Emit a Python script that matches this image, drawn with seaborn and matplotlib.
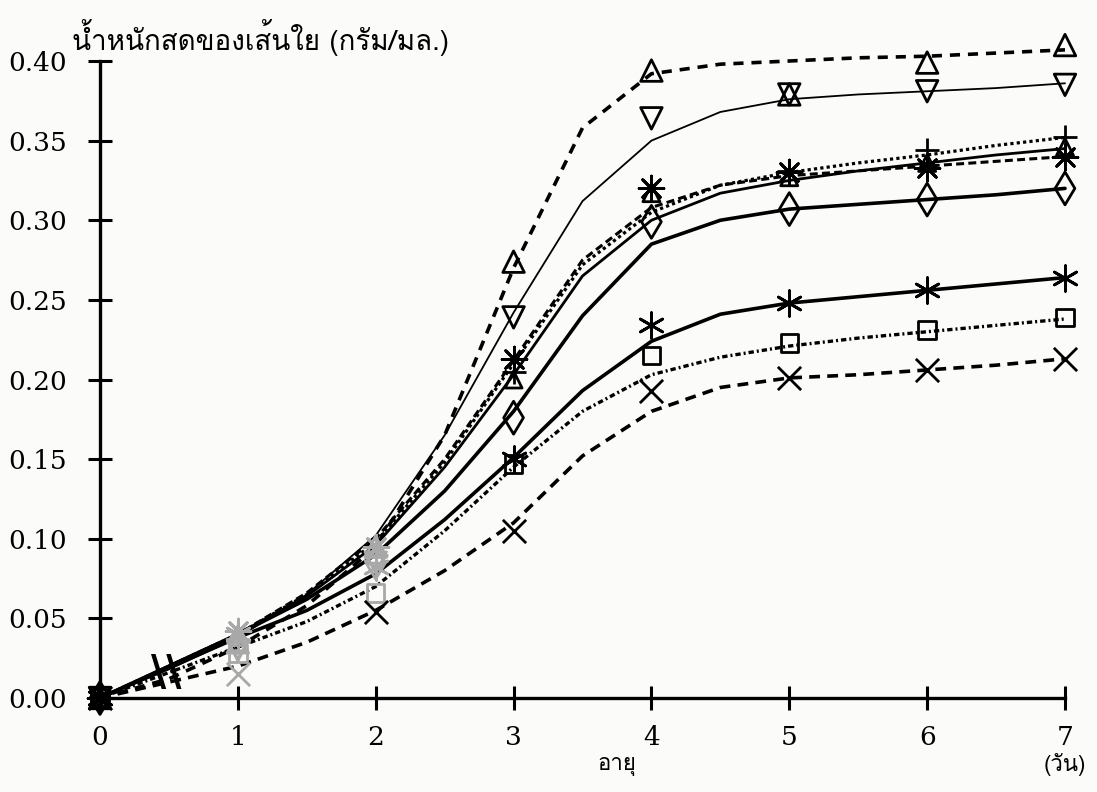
import numpy as np
import pandas as pd
import matplotlib
matplotlib.use("Agg")
import matplotlib.pyplot as plt
import seaborn as sns
from matplotlib import font_manager, ft2font

# ---------------- data ----------------
days = [0, 1, 2, 3, 4, 5, 6, 7]
curve_days = [0, 0.5, 1, 1.5, 2, 2.5, 3, 3.5, 4, 4.5, 5, 5.5, 6, 6.5, 7]

# measured points (markers)
pts_tri_up   = [0, 0.035, 0.095, 0.274, 0.394, 0.379, 0.399, 0.410]
pts_tri_down = [0, 0.030, 0.085, 0.239, 0.364, 0.379, 0.381, 0.385]
pts_plus     = [0, 0.035, 0.090, 0.205, 0.320, 0.331, 0.344, 0.352]
pts_tri_sm   = [0, 0.035, 0.090, 0.200, 0.317, 0.327, 0.336, 0.346]
pts_ast8     = [0, 0.042, 0.095, 0.213, 0.320, 0.330, 0.333, 0.340]
pts_diamond  = [0, 0.035, 0.085, 0.176, 0.299, 0.307, 0.313, 0.320]
pts_ast6     = [0, 0.040, 0.082, 0.150, 0.234, 0.248, 0.256, 0.264]
pts_square   = [0, 0.028, 0.066, 0.147, 0.215, 0.223, 0.231, 0.239]
pts_cross    = [0, 0.015, 0.054, 0.105, 0.193, 0.201, 0.206, 0.213]

# fitted curves, read at half-day steps
crv_tri_up   = [0, 0.012, 0.032, 0.058, 0.095, 0.165, 0.270, 0.358, 0.392, 0.398, 0.400, 0.402, 0.403, 0.405, 0.407]
crv_tri_down = [0, 0.018, 0.038, 0.065, 0.102, 0.165, 0.242, 0.312, 0.350, 0.368, 0.376, 0.379, 0.381, 0.383, 0.386]
crv_plus     = [0, 0.020, 0.040, 0.065, 0.098, 0.148, 0.210, 0.272, 0.305, 0.322, 0.330, 0.336, 0.341, 0.347, 0.352]
crv_tri_sm   = [0, 0.020, 0.040, 0.064, 0.096, 0.145, 0.203, 0.265, 0.300, 0.317, 0.325, 0.331, 0.336, 0.341, 0.345]
crv_ast8     = [0, 0.020, 0.040, 0.066, 0.100, 0.150, 0.212, 0.275, 0.308, 0.322, 0.328, 0.331, 0.334, 0.337, 0.340]
crv_diamond  = [0, 0.020, 0.040, 0.062, 0.090, 0.130, 0.180, 0.240, 0.285, 0.300, 0.307, 0.310, 0.313, 0.316, 0.320]
crv_ast6     = [0, 0.019, 0.038, 0.055, 0.078, 0.112, 0.151, 0.193, 0.224, 0.241, 0.248, 0.252, 0.256, 0.260, 0.264]
crv_square   = [0, 0.016, 0.032, 0.048, 0.070, 0.105, 0.145, 0.180, 0.203, 0.214, 0.221, 0.226, 0.230, 0.234, 0.238]
crv_cross    = [0, 0.010, 0.020, 0.035, 0.055, 0.080, 0.110, 0.152, 0.180, 0.195, 0.201, 0.203, 0.206, 0.209, 0.213]

# markers that look faded in the scan (day indices)
faded_days = [1, 2]

y_ticks = [0.00, 0.05, 0.10, 0.15, 0.20, 0.25, 0.30, 0.35, 0.40]
y_tick_labels = ["0.00", "0.05", "0.10", "0.15", "0.20", "0.25", "0.30", "0.35", "0.40"]
x_tick_labels = ["0", "1", "2", "3", "4", "5", "6", "7"]

title_text = "น้ำหนักสดของเส้นใย (กรัม/มล.)"
xlabel_text = "อายุ"
unit_text = "(วัน)"

# ---------------- fonts ----------------
def find_thai_font():
    names = []
    for f in font_manager.fontManager.ttflist:
        try:
            cmap = ft2font.FT2Font(f.fname).get_charmap()
        except Exception:
            continue
        if 0x0E19 in cmap and 0x0E49 in cmap and 0x0E33 in cmap:
            names.append(f.name)
    return names[0] if names else None

sns.set_theme(style="white")
thai = find_thai_font()
serif_fam = ["DejaVu Serif"]
thai_fam = ([thai] if thai else []) + ["DejaVu Serif", "DejaVu Sans"]
plt.rcParams["font.family"] = serif_fam
plt.rcParams["lines.scale_dashes"] = True

bg = "#fbfbf9"
fig = plt.figure(figsize=(10.97, 7.92), dpi=100, facecolor=bg)
L, R, T, B = 100, 1065, 61, 698
ax = fig.add_axes([L / 1097, 1 - B / 792, (R - L) / 1097, (B - T) / 792])
ax.set_facecolor(bg)

series = [
    # points, curve, marker, size, filled, lw, linestyle
    (pts_tri_up,   crv_tri_up,   "^", 240, True,  2.6, (0, (2.8, 2.2))),
    (pts_tri_down, crv_tri_down, "v", 240, True,  1.3, "-"),
    (pts_plus,     crv_plus,     "+", 320, False, 2.3, (0, (1.0, 1.0))),
    (pts_tri_sm,   crv_tri_sm,   "^", 150, True,  2.0, "-"),
    (pts_ast8,     crv_ast8,     (8, 2, 0), 320, False, 2.2, (0, (2.6, 1.4))),
    (pts_diamond,  crv_diamond,  "d", 280, True,  2.6, "-"),
    (pts_ast6,     crv_ast6,     (6, 2, 0), 340, False, 2.6, "-"),
    (pts_square,   crv_square,   "s", 160, True,  2.4, (0, (1.6, 0.9, 0.6, 0.9))),
    (pts_cross,    crv_cross,    "x", 280, False, 2.6, (0, (3.0, 2.0))),
]

for k, (pts, crv, mk, sz, filled, lw, ls) in enumerate(series):
    sns.lineplot(x=curve_days, y=crv, ax=ax, color="black", linewidth=lw,
                 linestyle=ls, estimator=None, sort=False, clip_on=False, zorder=2)
    for group, col in (("solid", "black"), ("faded", "#a8a8a8")):
        if group == "faded":
            idx = [d for d in faded_days if not (k == 8 and d == 2)]
        else:
            idx = [d for d in days if d not in faded_days or (k == 8 and d == 2)]
        xs = [days[i] for i in idx]
        ys = [pts[i] for i in idx]
        if filled:
            sns.scatterplot(x=xs, y=ys, ax=ax, marker=mk, s=sz, color=col,
                            facecolor="none", edgecolor=col, linewidth=2.0,
                            clip_on=False, zorder=3)
        else:
            sns.scatterplot(x=xs, y=ys, ax=ax, marker=mk, s=sz, color=col,
                            linewidth=2.0, clip_on=False, zorder=3)

ax.set_xlim(0, 7)
ax.set_ylim(0, 0.40)
for s in ["top", "right"]:
    ax.spines[s].set_visible(False)
for s in ["left", "bottom"]:
    ax.spines[s].set_linewidth(2.4)
    ax.spines[s].set_color("black")

ax.set_xticks(days)
ax.set_xticklabels(x_tick_labels)
ax.set_yticks(y_ticks)
ax.set_yticklabels(y_tick_labels)
ax.tick_params(axis="y", direction="inout", length=17, width=2.2, pad=15,
               labelsize=19, colors="black", left=True)
ax.tick_params(axis="x", direction="inout", length=17, width=2.2, pad=11,
               labelsize=19, colors="black", bottom=True)
ax.grid(False)

# axis-break strokes drawn on the curves near day 0.5
ax.text(0.48, 0.016, "\\\\", fontsize=30, fontweight="bold", ha="center",
        va="center", color="black", family=["DejaVu Sans"], zorder=4)

fig.text(72 / 1097, 1 - 38 / 792, title_text, ha="left", va="center",
         fontsize=20, color="black", family=thai_fam)
fig.text((L + 3.75 * (R - L) / 7) / 1097, 1 - 765 / 792, xlabel_text,
         ha="center", va="center", fontsize=16, color="black", family=thai_fam)
fig.text(R / 1097, 1 - 765 / 792, unit_text, ha="center", va="center",
         fontsize=16, color="black", family=thai_fam)

fig.savefig("out.png", dpi=100, facecolor=bg)
